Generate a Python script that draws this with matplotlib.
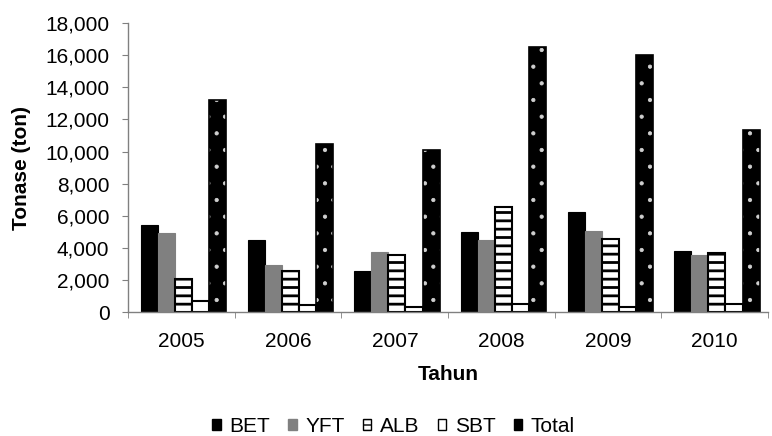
import matplotlib
matplotlib.use("Agg")
import matplotlib.pyplot as plt
import numpy as np
from matplotlib.patches import Patch

plt.rcParams['font.family'] = ['Liberation Sans', 'DejaVu Sans']

years = ['2005', '2006', '2007', '2008', '2009', '2010']
series_names = ['BET', 'YFT', 'ALB', 'SBT', 'Total']
BET = [5450, 4480, 2550, 4970, 6230, 3780]
YFT = [4960, 2930, 3740, 4470, 5050, 3550]
ALB = [2040, 2550, 3550, 6560, 4550, 3660]
SBT = [700, 450, 300, 540, 300, 520]
Total = [13200, 10470, 10100, 16520, 16020, 11350]

FS = 15

fig = plt.figure(figsize=(7.72, 4.36), dpi=100)
ax = fig.add_axes([0.166, 0.284, 0.829, 0.663])

x = np.arange(len(years))
w = 0.16
offs = (np.arange(5) - 2) * w + 0.02

ax.bar(x + offs[0], BET, w, color='black', edgecolor='black', linewidth=0.8)
ax.bar(x + offs[1], YFT, w, color='#808080', edgecolor='#808080', linewidth=0.8)
with plt.rc_context({'hatch.linewidth': 2.0}):
    ax.bar(x + offs[2], ALB, w, color='white', edgecolor='black', hatch='--', linewidth=1.5)
ax.bar(x + offs[3], SBT, w, color='white', edgecolor='black', linewidth=1.5)
# Total: black with white dots
with plt.rc_context({'hatch.linewidth': 0.6}):
    ax.bar(x + offs[4], Total, w, color='black', edgecolor='#d0d0d0', hatch='.', linewidth=0)
ax.bar(x + offs[4], Total, w, color='none', edgecolor='black', linewidth=1.2)

ax.set_xlim(-0.5, 5.5)
ax.set_ylim(0, 18000)
ax.set_yticks(np.arange(0, 18001, 2000))
ax.set_yticklabels([f'{v:,}' for v in range(0, 18001, 2000)], fontsize=FS)
ax.set_xticks(x)
ax.set_xticklabels(years, fontsize=FS)
ax.set_xticks(np.arange(-0.5, 6, 1), minor=True)
ax.tick_params(axis='x', which='major', length=0, pad=14)
ax.tick_params(axis='x', which='minor', length=4.5, color='#808080', direction='out')
ax.tick_params(axis='y', length=4.5, color='#808080', direction='out', pad=9)

for s in ['top', 'right']:
    ax.spines[s].set_visible(False)
for s in ['left', 'bottom']:
    ax.spines[s].set_color('#808080')
    ax.spines[s].set_linewidth(1.0)

ax.set_ylabel('Tonase (ton)', fontsize=FS, fontweight='bold', labelpad=10.5)
ax.set_xlabel('Tahun', fontsize=FS, fontweight='bold', labelpad=10)

with plt.rc_context({'hatch.linewidth': 1.5}):
    handles = [
        Patch(facecolor='black', edgecolor='black'),
        Patch(facecolor='#808080', edgecolor='#808080'),
        Patch(facecolor='white', edgecolor='black', hatch='---'),
        Patch(facecolor='white', edgecolor='black'),
        Patch(facecolor='black', edgecolor='black'),
    ]
fig.legend(handles, series_names, loc='center', bbox_to_anchor=(0.51, 0.022), ncol=5,
           frameon=False, fontsize=FS, handlelength=0.4, handleheight=0.4,
           handletextpad=0.43, columnspacing=0.86, borderpad=0)

fig.savefig('out.png', dpi=100)
